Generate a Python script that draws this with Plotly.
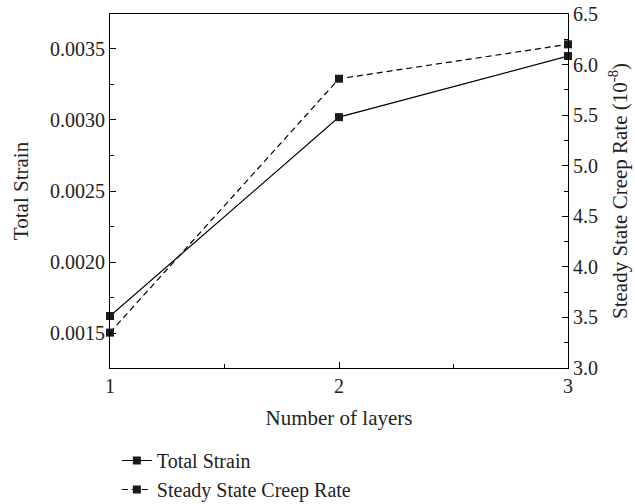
import plotly.graph_objects as go

# Number of layers vs. total strain and steady-state creep rate
layers = [1, 2, 3]
total_strain = [0.00162, 0.00302, 0.00345]
creep_rate = [3.35, 5.86, 6.20]  # x 10^-8

FONT = "Liberation Serif"

fig = go.Figure()
fig.add_trace(go.Scatter(
    x=layers, y=total_strain, name="Total Strain", mode="lines+markers",
    line=dict(color="black", width=1.2),
    marker=dict(symbol="square", size=8, color="#1a1a1a"),
    cliponaxis=False,
))
fig.add_trace(go.Scatter(
    x=layers, y=creep_rate, name="Steady State Creep Rate", mode="lines+markers",
    line=dict(color="black", width=1.2, dash="6px,4px"),
    marker=dict(symbol="square", size=8, color="#1a1a1a"),
    yaxis="y2", cliponaxis=False,
))

tick_font = dict(family=FONT, size=20, color="#222")
title_font = dict(family=FONT, size=21, color="#222")
fig.update_layout(
    width=635, height=504,
    margin=dict(l=110, r=67, t=14, b=136),
    paper_bgcolor="white", plot_bgcolor="white",
    font=dict(family=FONT, size=20, color="#222"),
    showlegend=True,
    legend=dict(x=0.015, y=0.125, xanchor="left", yanchor="top", yref="container",
                orientation="v", font=dict(family=FONT, size=20, color="#222"),
                bgcolor="rgba(0,0,0,0)", tracegroupgap=0, itemwidth=30),
    xaxis=dict(
        range=[1, 3], tickvals=[1, 2, 3], ticks="inside", ticklen=6,
        tickcolor="black", showline=True, linecolor="black", linewidth=1.2,
        mirror=True, showgrid=False, zeroline=False, tickfont=tick_font,
        minor=dict(tickvals=[1.5, 2.5], ticks="inside", ticklen=4, tickcolor="black"),
        title=dict(text="Number of layers", font=title_font, standoff=14),
    ),
    yaxis=dict(
        range=[0.001254, 0.003746],
        tickvals=[0.0015, 0.0020, 0.0025, 0.0030, 0.0035], tickformat=".4f",
        ticks="inside", ticklen=6, tickcolor="black",
        showline=True, linecolor="black", linewidth=1.2,
        showgrid=False, zeroline=False, tickfont=tick_font,
        minor=dict(tickvals=[0.00175, 0.00225, 0.00275, 0.00325], ticks="inside",
                   ticklen=4, tickcolor="black"),
        title=dict(text="Total Strain", font=title_font, standoff=15),
    ),
    yaxis2=dict(
        overlaying="y", side="right", range=[3.0, 6.5], automargin=False,
        tickvals=[3.0, 3.5, 4.0, 4.5, 5.0, 5.5, 6.0, 6.5], tickformat=".1f",
        ticks="inside", ticklen=6, tickcolor="black",
        showline=True, linecolor="black", linewidth=1.2,
        showgrid=False, zeroline=False, tickfont=tick_font,
        minor=dict(tickvals=[3.25, 3.75, 4.25, 4.75, 5.25, 5.75, 6.25], ticks="inside",
                   ticklen=4, tickcolor="black"),
        title=dict(text="Steady State Creep Rate (10<sup>-8</sup>)", font=title_font),
    ),
)

fig.write_html("out.html")
